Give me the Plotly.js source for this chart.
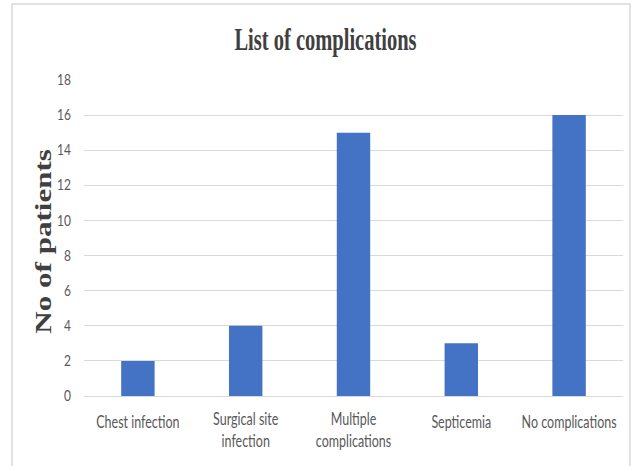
<!DOCTYPE html>
<html>
<head>
<meta charset="utf-8">
<script src="https://cdn.plot.ly/plotly-3.0.1.min.js"></script>
<style>html,body{margin:0;padding:0;background:#fff;}#chart{width:642px;height:466px;}</style>
</head>
<body>
<div id="chart"></div>
<script>
const categories = ["Chest infection", "Surgical site<br>infection", "Multiple<br>complications", "Septicemia", "No complications"];
const patients = [2, 4, 15, 3, 16];
const yTicks = [0, 2, 4, 6, 8, 10, 12, 14, 16, 18];

const trace = {
  type: "bar",
  x: categories,
  y: patients,
  marker: {color: "#4472C4"},
  hoverinfo: "x+y"
};

const layout = {
  width: 642, height: 466,
  margin: {l: 84, r: 19, t: 80, b: 70},
  paper_bgcolor: "#ffffff",
  plot_bgcolor: "#ffffff",
  bargap: 0.69,
  showlegend: false,
  title: {
    text: "<b>List of complications</b>",
    font: {family: "Liberation Serif, Times New Roman, serif", size: 20.5, color: "#404040"},
    x: 0.507, xanchor: "center", y: 0.915, yanchor: "middle"
  },
  xaxis: {
    type: "category",
    showgrid: false,
    showline: true, linecolor: "#d9d9d9", linewidth: 1,
    ticks: "",
    ticklabelstandoff: 14,
    tickfont: {family: "Lato, Open Sans, sans-serif", size: 12.5, color: "#595959"}
  },
  yaxis: {
    range: [0, 18],
    tickvals: yTicks,
    ticktext: yTicks.map(String),
    showgrid: true, gridcolor: "#d9d9d9", gridwidth: 1,
    zeroline: false, showline: false,
    ticks: "",
    ticklabelstandoff: 12,
    tickfont: {family: "Lato, Open Sans, sans-serif", size: 12, color: "#595959"}
  },
  annotations: [{
    text: "<b>No of patients</b>",
    xref: "paper", yref: "paper",
    x: -0.076, y: 0.49, xanchor: "center", yanchor: "middle",
    textangle: -90, showarrow: false,
    font: {family: "Liberation Serif, Times New Roman, serif", size: 22.5, color: "#404040"}
  }],
  shapes: [{
    type: "rect", xref: "paper", yref: "paper",
    x0: -0.1336, x1: 1.013, y0: -0.3, y1: 1.2405,
    line: {color: "#d9d9d9", width: 1.5},
    fillcolor: "rgba(0,0,0,0)", layer: "below"
  }]
};

function stretchY(el, s) {
  const r = el.getBoundingClientRect();
  const ctm = el.parentNode.getScreenCTM();
  const cy = (r.top + r.height / 2) - ctm.f;
  const old = el.getAttribute("transform") || "";
  el.setAttribute("transform", "translate(0," + cy + ") scale(1," + s + ") translate(0," + (-cy) + ") " + old);
}
function stretchLocalX(el, s) {
  const bb = el.getBBox();
  const cx = bb.x + bb.width / 2;
  const old = el.getAttribute("transform") || "";
  el.setAttribute("transform", old + " translate(" + cx + ",0) scale(" + s + ",1) translate(" + (-cx) + ",0)");
}

Plotly.newPlot("chart", [trace], layout, {displayModeBar: false, staticPlot: true}).then(function (gd) {
  gd.querySelectorAll(".gtitle").forEach(el => stretchY(el, 1.55));
  gd.querySelectorAll(".annotation-text").forEach(el => stretchLocalX(el, 1.38));
  gd.querySelectorAll(".xtick text").forEach(el => stretchY(el, 1.35));
  gd.querySelectorAll(".ytick text").forEach(el => stretchY(el, 1.2));
});
</script>
</body>
</html>
